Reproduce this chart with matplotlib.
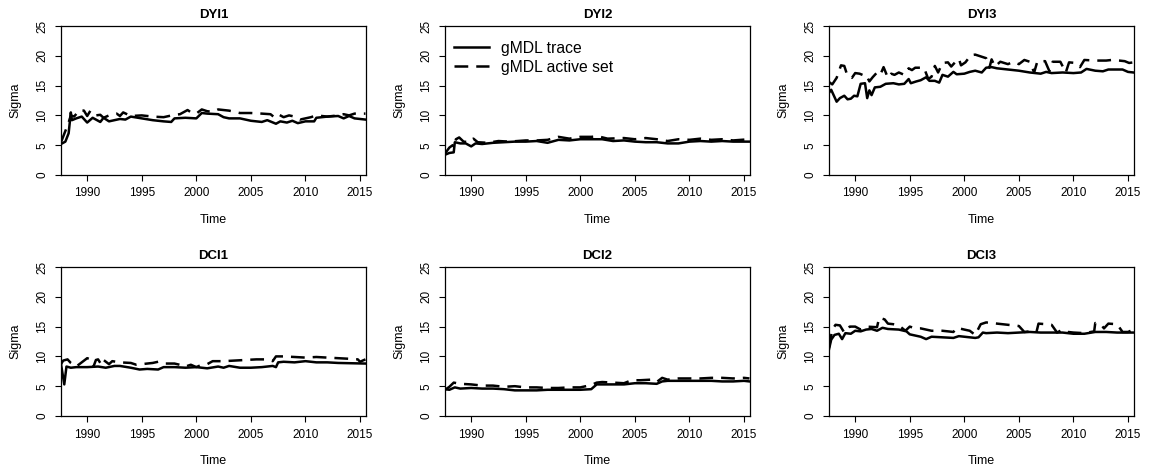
import matplotlib
matplotlib.use("Agg")
import matplotlib.pyplot as plt

plt.rcParams['font.family'] = ['Liberation Sans', 'DejaVu Sans']

titles = ["DYI1", "DYI2", "DYI3", "DCI1", "DCI2", "DCI3"]
legend_labels = ["gMDL trace", "gMDL active set"]
xticks = [1990, 1995, 2000, 2005, 2010, 2015]
yticks = [0, 5, 10, 15, 20, 25]

# ---- DYI1 ----
dyi1_trace_t = [1987.6, 1988.0, 1988.3, 1988.5, 1988.6, 1989.0, 1989.5, 1990.0, 1990.5, 1991.2, 1991.5,
                1992.0, 1993.0, 1993.5, 1994.0, 1995.0, 1996.0, 1997.0, 1997.7, 1998.0, 1999.0, 2000.0,
                2000.5, 2001.0, 2002.0, 2002.5, 2003.0, 2004.0, 2005.0, 2006.0, 2006.5, 2007.3, 2007.7,
                2008.3, 2008.8, 2009.3, 2010.0, 2010.8, 2011.0, 2012.0, 2013.0, 2013.5, 2014.0, 2014.5, 2015.5]
dyi1_trace_v = [5.2, 5.6, 7.0, 10.5, 9.2, 9.5, 9.8, 8.8, 9.6, 8.9, 9.6,
                9.0, 9.4, 9.3, 9.8, 9.5, 9.2, 9.0, 8.9, 9.5, 9.6, 9.5,
                10.4, 10.3, 10.2, 9.7, 9.5, 9.5, 9.1, 8.9, 9.2, 8.6, 9.0,
                8.8, 9.1, 8.7, 9.0, 9.0, 9.6, 9.8, 9.9, 9.5, 9.9, 9.5, 9.3]
dyi1_active_t = [1987.6, 1988.3, 1988.5, 1988.8, 1989.3, 1989.7, 1990.0, 1990.3, 1990.8, 1991.2, 1991.5,
                 1992.0, 1992.7, 1993.0, 1993.3, 1994.0, 1995.0, 1996.0, 1997.0, 1998.0, 1998.5, 1999.2,
                 1999.6, 2000.0, 2000.5, 2001.0, 2001.5, 2002.0, 2003.0, 2004.0, 2005.0, 2006.0, 2006.8,
                 2007.2, 2007.6, 2008.0, 2008.5, 2009.0, 2009.5, 2010.5, 2011.0, 2012.0, 2013.0, 2013.5,
                 2014.0, 2014.5, 2015.5]
dyi1_active_v = [5.5, 8.8, 10.0, 9.8, 10.9, 10.8, 9.9, 10.8, 10.0, 10.1, 9.6,
                 10.0, 10.3, 9.9, 10.5, 9.9, 10.0, 9.8, 9.7, 10.1, 10.2, 10.9,
                 10.4, 10.3, 11.0, 10.7, 10.6, 11.0, 10.8, 10.4, 10.4, 10.3, 10.2,
                 9.6, 10.1, 9.7, 10.0, 9.8, 9.3, 9.7, 10.0, 9.8, 10.0, 10.2,
                 10.0, 10.3, 10.3]

# ---- DYI2 ----
dyi2_trace_t = [1987.6, 1988.0, 1988.4, 1988.5, 1989.0, 1989.5, 1990.0, 1990.4, 1991.0, 1992.0, 1993.0,
                1994.0, 1995.0, 1996.0, 1997.0, 1998.0, 1999.0, 2000.0, 2001.0, 2002.0, 2003.0, 2004.0,
                2005.0, 2006.0, 2007.0, 2008.0, 2009.0, 2010.0, 2011.0, 2012.0, 2013.0, 2014.0, 2015.5]
dyi2_trace_v = [3.4, 3.7, 3.8, 5.5, 5.3, 5.3, 4.8, 5.3, 5.2, 5.4, 5.5,
                5.6, 5.6, 5.7, 5.4, 5.9, 5.8, 6.0, 6.0, 6.0, 5.7, 5.8,
                5.6, 5.5, 5.5, 5.3, 5.3, 5.6, 5.7, 5.6, 5.7, 5.6, 5.6]
dyi2_active_t = [1987.6, 1988.0, 1988.3, 1988.5, 1988.6, 1988.9, 1989.3, 1989.8, 1990.2, 1990.6, 1991.5,
                 1992.5, 1993.5, 1995.0, 1996.0, 1997.0, 1998.0, 1999.0, 2000.0, 2001.0, 2001.6, 2002.5,
                 2004.0, 2005.0, 2006.0, 2007.0, 2008.0, 2009.0, 2010.0, 2011.0, 2012.0, 2013.0, 2014.0, 2015.5]
dyi2_active_v = [3.6, 4.6, 5.0, 4.6, 6.0, 6.3, 5.6, 5.5, 6.1, 5.5, 5.4,
                 5.7, 5.6, 5.8, 5.8, 5.9, 6.4, 6.1, 6.4, 6.4, 6.5, 6.1,
                 6.2, 6.0, 6.2, 6.0, 5.7, 6.0, 5.9, 6.1, 5.9, 6.0, 5.8, 6.0]

# ---- DYI3 ----
dyi3_trace_t = [1987.6, 1987.8, 1988.3, 1988.6, 1989.0, 1989.3, 1989.6, 1989.9, 1990.2, 1990.5, 1990.9,
                1991.1, 1991.3, 1991.5, 1991.8, 1992.3, 1992.8, 1993.5, 1994.0, 1994.5, 1994.9, 1995.1,
                1995.6, 1996.0, 1996.5, 1996.8, 1997.3, 1997.7, 1998.0, 1998.5, 1999.0, 1999.3, 2000.0,
                2000.5, 2001.0, 2001.6, 2002.0, 2002.5, 2003.0, 2004.0, 2005.0, 2006.0, 2007.0, 2007.5,
                2008.0, 2009.0, 2010.0, 2010.7, 2011.2, 2012.0, 2012.7, 2013.2, 2014.5, 2015.0, 2015.5]
dyi3_trace_v = [13.8, 14.3, 12.3, 12.9, 13.3, 12.7, 12.8, 13.3, 13.2, 15.3, 15.4,
                12.9, 14.2, 13.4, 14.7, 14.8, 15.3, 15.4, 15.2, 15.3, 16.1, 15.4,
                15.7, 15.9, 16.4, 15.8, 15.8, 15.5, 16.8, 16.5, 17.3, 16.9, 17.0,
                17.3, 17.5, 17.2, 18.0, 18.1, 17.9, 17.7, 17.5, 17.2, 17.0, 17.3,
                17.1, 17.2, 17.1, 17.2, 17.8, 17.5, 17.4, 17.7, 17.7, 17.3, 17.2]
dyi3_active_t = [1987.6, 1987.9, 1988.3, 1988.7, 1989.0, 1989.3, 1989.7, 1990.0, 1990.4, 1990.8, 1991.0,
                 1991.3, 1991.6, 1992.0, 1992.3, 1992.6, 1993.0, 1993.3, 1993.6, 1994.0, 1994.5, 1994.9,
                 1995.2, 1995.5, 1996.3, 1996.7, 1997.0, 1997.3, 1997.6, 1998.0, 1998.5, 1998.8, 1999.2,
                 1999.5, 1999.7, 2000.1, 2000.6, 2001.0, 2001.5, 2002.0, 2002.3, 2002.5, 2002.8, 2003.3,
                 2004.0, 2004.5, 2005.0, 2005.5, 2006.0, 2006.4, 2006.7, 2007.4, 2007.8, 2008.1, 2008.8,
                 2009.3, 2009.6, 2010.2, 2010.6, 2011.0, 2012.0, 2013.0, 2013.5, 2014.2, 2014.7, 2015.1, 2015.5]
dyi3_active_v = [15.6, 15.2, 16.3, 18.4, 18.3, 16.6, 16.3, 17.1, 17.0, 16.7, 16.8,
                 15.7, 16.4, 17.2, 16.8, 18.1, 16.3, 17.0, 16.8, 17.2, 16.8, 17.9,
                 17.6, 18.0, 18.0, 16.1, 16.5, 18.3, 17.2, 18.8, 18.9, 18.2, 19.0,
                 19.5, 18.4, 18.9, 20.1, 20.2, 19.9, 19.6, 18.0, 19.4, 18.2, 19.0,
                 18.6, 19.0, 18.6, 19.3, 19.0, 17.2, 19.1, 19.1, 17.4, 19.0, 19.0,
                 17.2, 18.9, 18.8, 18.1, 19.3, 19.2, 19.2, 19.3, 19.2, 19.1, 18.8, 18.9]

# ---- DCI1 ----
dci1_trace_t = [1987.6, 1987.9, 1988.1, 1988.5, 1989.0, 1990.0, 1991.0, 1991.7, 1992.5, 1993.0, 1994.0,
                1994.8, 1995.5, 1996.5, 1997.0, 1998.0, 1999.0, 2000.0, 2001.0, 2002.0, 2002.5, 2003.0,
                2004.0, 2005.0, 2006.0, 2007.0, 2007.3, 2007.5, 2008.0, 2009.0, 2010.0, 2011.0, 2012.0,
                2013.0, 2015.5]
dci1_trace_v = [8.7, 5.3, 8.3, 8.1, 8.2, 8.2, 8.3, 8.1, 8.4, 8.4, 8.1,
                7.8, 7.9, 7.8, 8.2, 8.2, 8.1, 8.2, 8.0, 8.3, 8.1, 8.4,
                8.1, 8.1, 8.2, 8.4, 8.2, 9.0, 9.1, 9.0, 9.2, 9.0, 9.0,
                8.9, 8.8]
dci1_active_t = [1987.6, 1987.8, 1988.2, 1988.5, 1989.0, 1990.0, 1990.3, 1990.6, 1990.8, 1991.0, 1991.3,
                 1991.5, 1992.0, 1992.3, 1993.0, 1994.0, 1994.5, 1995.5, 1996.0, 1996.5, 1997.0, 1998.0,
                 1998.7, 1999.0, 1999.5, 2000.0, 2000.5, 2001.0, 2001.5, 2002.5, 2003.5, 2004.5, 2005.5,
                 2006.5, 2007.0, 2007.3, 2008.0, 2009.0, 2010.0, 2011.0, 2012.0, 2013.0, 2014.0, 2014.8,
                 2015.0, 2015.5]
dci1_active_v = [8.7, 9.3, 9.5, 8.9, 8.3, 9.7, 9.5, 8.4, 9.4, 9.5, 8.6,
                 9.4, 8.7, 9.2, 9.0, 8.9, 8.6, 8.8, 8.9, 9.1, 8.8, 8.8,
                 8.5, 8.3, 8.6, 8.2, 8.6, 8.7, 9.2, 9.2, 9.3, 9.4, 9.5,
                 9.5, 9.2, 10.0, 10.0, 9.9, 9.8, 9.9, 9.8, 9.7, 9.6, 9.5,
                 9.1, 9.5]

# ---- DCI2 ----
dci2_trace_t = [1987.6, 1988.0, 1988.5, 1989.0, 1990.0, 1991.0, 1992.0, 1993.0, 1994.0, 1995.0, 1996.0,
                1997.0, 1998.0, 1999.0, 2000.0, 2001.0, 2001.5, 2002.0, 2003.0, 2004.0, 2005.0, 2006.0,
                2007.0, 2007.5, 2008.0, 2009.0, 2010.0, 2011.0, 2012.0, 2013.0, 2014.0, 2015.0, 2015.5]
dci2_trace_v = [4.5, 4.4, 4.8, 4.6, 4.7, 4.6, 4.6, 4.5, 4.3, 4.3, 4.3,
                4.4, 4.4, 4.4, 4.4, 4.5, 5.3, 5.3, 5.3, 5.3, 5.5, 5.5,
                5.4, 5.8, 5.9, 5.9, 5.9, 5.9, 5.9, 5.8, 5.8, 5.9, 5.8]
dci2_active_t = [1987.6, 1988.0, 1988.4, 1989.0, 1990.0, 1991.0, 1992.0, 1993.0, 1994.0, 1995.0, 1996.0,
                 1997.0, 1998.0, 1999.0, 2000.0, 2001.0, 2001.5, 2002.0, 2003.0, 2004.0, 2004.7, 2005.5,
                 2006.5, 2007.0, 2007.5, 2008.0, 2009.0, 2010.0, 2011.0, 2012.0, 2013.0, 2014.0, 2015.0, 2015.5]
dci2_active_v = [4.4, 4.9, 5.6, 5.4, 5.3, 5.1, 5.1, 4.9, 5.0, 4.8, 4.8,
                 4.7, 4.7, 4.8, 4.8, 5.2, 5.6, 5.7, 5.6, 5.5, 6.0, 6.0,
                 6.1, 5.7, 6.4, 6.1, 6.3, 6.3, 6.3, 6.4, 6.4, 6.3, 6.4, 6.3]

# ---- DCI3 ----
dci3_trace_t = [1987.6, 1987.8, 1988.1, 1988.5, 1988.8, 1989.1, 1989.6, 1990.0, 1990.5, 1991.0, 1991.5,
                1992.0, 1992.5, 1993.0, 1994.0, 1994.7, 1995.0, 1996.0, 1996.5, 1997.0, 1998.0, 1999.0,
                1999.5, 2000.0, 2001.0, 2001.3, 2001.7, 2002.0, 2003.0, 2004.0, 2005.0, 2006.0, 2007.0,
                2008.0, 2009.0, 2010.0, 2011.0, 2012.0, 2013.0, 2014.0, 2015.0, 2015.5]
dci3_trace_v = [11.2, 12.8, 13.6, 13.8, 12.9, 13.9, 13.8, 14.3, 14.2, 14.5, 14.6,
                14.3, 14.8, 14.6, 14.5, 14.2, 13.7, 13.3, 12.9, 13.3, 13.2, 13.1,
                13.4, 13.3, 13.1, 13.2, 14.0, 13.9, 14.0, 13.9, 14.0, 14.1, 14.0,
                14.0, 14.0, 13.8, 13.8, 14.1, 14.1, 14.0, 14.0, 14.0]
dci3_active_t = [1987.6, 1987.9, 1988.2, 1988.6, 1989.0, 1989.5, 1990.0, 1990.5, 1991.0, 1992.0, 1992.2,
                 1992.7, 1993.0, 1993.5, 1994.0, 1994.6, 1995.0, 1995.5, 1996.0, 1997.0, 1998.0, 1999.0,
                 1999.3, 2000.0, 2000.5, 2001.0, 2001.5, 2002.0, 2003.0, 2004.0, 2005.0, 2005.5, 2006.0,
                 2006.6, 2006.8, 2007.5, 2008.0, 2008.5, 2009.0, 2009.5, 2010.0, 2011.0, 2011.9, 2012.0,
                 2012.5, 2012.8, 2013.2, 2014.0, 2014.5, 2015.0, 2015.5]
dci3_active_v = [11.5, 14.5, 15.3, 15.2, 14.0, 15.0, 15.0, 14.5, 15.0, 14.9, 16.5,
                 16.2, 15.5, 15.4, 15.2, 14.3, 15.0, 14.7, 14.7, 14.3, 14.3, 14.1,
                 14.8, 14.5, 14.3, 13.6, 15.4, 15.7, 15.5, 15.3, 15.1, 14.1, 14.2,
                 14.0, 15.5, 15.4, 15.3, 14.0, 14.5, 14.1, 14.0, 13.9, 14.2, 15.6,
                 15.4, 14.7, 15.5, 15.4, 14.1, 14.1, 14.5]

panels = [
    (dyi1_trace_t, dyi1_trace_v, dyi1_active_t, dyi1_active_v),
    (dyi2_trace_t, dyi2_trace_v, dyi2_active_t, dyi2_active_v),
    (dyi3_trace_t, dyi3_trace_v, dyi3_active_t, dyi3_active_v),
    (dci1_trace_t, dci1_trace_v, dci1_active_t, dci1_active_v),
    (dci2_trace_t, dci2_trace_v, dci2_active_t, dci2_active_v),
    (dci3_trace_t, dci3_trace_v, dci3_active_t, dci3_active_v),
]

W, H = 1150, 470
fig = plt.figure(figsize=(W / 100, H / 100), dpi=100)

lefts = [61, 445, 829]
tops = [26, 267]
aw, ah = 305, 149

for i, (tt, tv, at, av) in enumerate(panels):
    r, c = divmod(i, 3)
    l = lefts[c]
    t = tops[r]
    ax = fig.add_axes([l / W, 1 - (t + ah) / H, aw / W, ah / H])
    ax.plot(tt, tv, color='black', lw=1.8, solid_joinstyle='round', label=legend_labels[0])
    ax.plot(at, av, color='black', lw=1.8, linestyle=(0, (5.5, 3.2)), label=legend_labels[1])
    ax.set_xlim(1987.6, 2015.55)
    ax.set_ylim(0, 25)
    ax.set_xticks(xticks)
    ax.set_yticks(yticks)
    ax.set_yticklabels([str(v) for v in yticks], rotation=90, va='center')
    ax.tick_params(direction='out', length=4.5, width=0.8, labelsize=8.5, colors='black')
    ax.tick_params(axis='x', pad=4.5)
    ax.tick_params(axis='y', pad=4.5)
    for s in ax.spines.values():
        s.set_linewidth(0.9)
    ax.text(0.5, 1.075, titles[i], transform=ax.transAxes, ha='center', va='center',
            fontsize=9.5, fontweight='bold')
    ax.text(-0.148, 0.5, "Sigma", transform=ax.transAxes, ha='center', va='center',
            rotation=90, fontsize=9)
    ax.text(0.5, -0.30, "Time", transform=ax.transAxes, ha='center', va='center', fontsize=9)
    if i == 1:
        ax.legend(loc='upper left', bbox_to_anchor=(0.03, 0.90), frameon=False, fontsize=11.3,
                  handlelength=2.2, handletextpad=0.8, labelspacing=0.25, borderpad=0,
                  borderaxespad=0)

fig.savefig("out.png", dpi=100)
